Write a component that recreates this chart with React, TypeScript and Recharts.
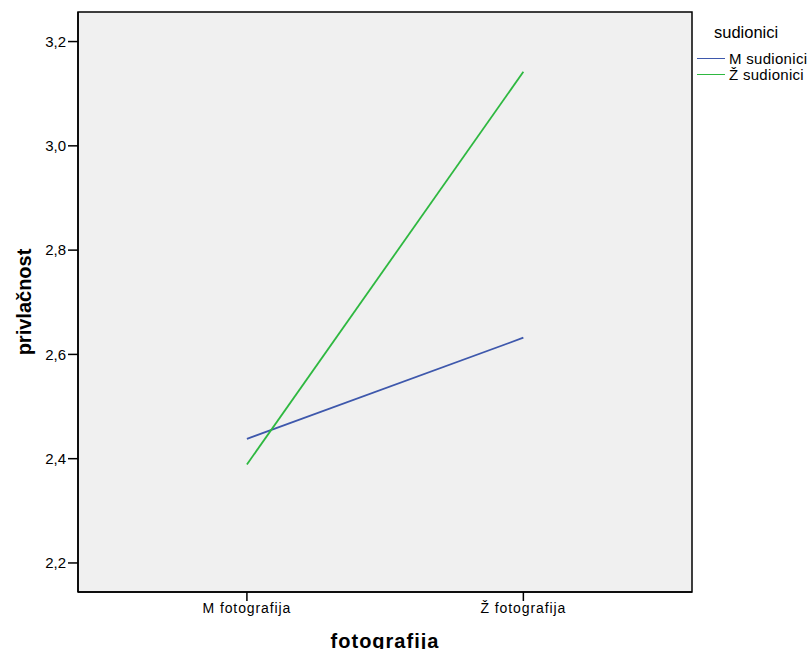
import React from 'react';
import { LineChart, Line, XAxis, YAxis, ReferenceArea } from 'recharts';

const categories = ['M fotografija', 'Ž fotografija'];
const mSudionici = [2.438, 2.632];
const zSudionici = [2.389, 3.142];
const yTicks = [2.2, 2.4, 2.6, 2.8, 3.0, 3.2];

const X_MIN = -0.611;
const X_MAX = 1.61;
const Y_MIN = 2.1443;
const Y_MAX = 3.2567;

const BLUE = '#3e58ac';
const GREEN = '#2eb840';
const FONT = '"Liberation Sans", Arial, sans-serif';

const chartData = categories.map((name, i) => ({
  x: i,
  name,
  m: mSudionici[i],
  z: zSudionici[i],
}));

const legendItems = [
  { label: 'M sudionici', color: BLUE },
  { label: 'Ž sudionici', color: GREEN },
];

const LegendBox = () => (
  <div style={{ position: 'absolute', left: 697, top: 23, fontFamily: FONT, color: '#000' }}>
    <div style={{ fontSize: 16.5, marginLeft: 17, marginBottom: 8 }}>sudionici</div>
    {legendItems.map((it) => (
      <div key={it.label} style={{ display: 'flex', alignItems: 'center', height: 16 }}>
        <div style={{ width: 28, height: 0, borderTop: `1.5px solid ${it.color}`, marginRight: 4 }} />
        <span style={{ fontSize: 15, letterSpacing: 0.3 }}>{it.label}</span>
      </div>
    ))}
  </div>
);

export default function App() {
  return (
    <div style={{ position: 'absolute', left: 0, top: 0, width: 811, height: 649, background: '#fff', overflow: 'hidden' }}>
      <LineChart
        width={811}
        height={649}
        data={chartData}
        margin={{ top: 12, right: 119, bottom: 0, left: 0 }}
        style={{ fontFamily: FONT }}
      >
        <ReferenceArea
          x1={X_MIN}
          x2={X_MAX}
          y1={Y_MIN}
          y2={Y_MAX}
          fill="#f0f0f0"
          fillOpacity={1}
          stroke="#000"
          strokeWidth={1.5}
        />
        <XAxis
          dataKey="x"
          type="number"
          domain={[X_MIN, X_MAX]}
          ticks={[0, 1]}
          tickFormatter={(v: number) => categories[v] ?? ''}
          height={57}
          axisLine={{ stroke: '#000', strokeWidth: 1.5 }}
          tickLine={{ stroke: '#000', strokeWidth: 1.5 }}
          tickSize={9}
          tick={{ fill: '#000', fontSize: 14, letterSpacing: 0.9 }}
          allowDataOverflow
          label={{ value: 'fotografija', position: 'insideBottom', offset: 1, fill: '#000', fontSize: 20, fontWeight: 'bold', letterSpacing: 1 }}
        />
        <YAxis
          type="number"
          domain={[Y_MIN, Y_MAX]}
          ticks={yTicks}
          tickFormatter={(v: number) => v.toFixed(1).replace('.', ',')}
          width={78}
          axisLine={{ stroke: '#000', strokeWidth: 1.5 }}
          tickLine={{ stroke: '#000', strokeWidth: 1.5 }}
          tickSize={10}
          tick={{ fill: '#000', fontSize: 15 }}
          allowDataOverflow
          label={{ value: 'privlačnost', angle: -90, position: 'insideLeft', offset: 24, fill: '#000', fontSize: 20, fontWeight: 'bold', style: { textAnchor: 'middle' } }}
        />
        <Line dataKey="m" name="M sudionici" stroke={BLUE} strokeWidth={1.8} dot={false} isAnimationActive={false} />
        <Line dataKey="z" name="Ž sudionici" stroke={GREEN} strokeWidth={1.8} dot={false} isAnimationActive={false} />
      </LineChart>
      <LegendBox />
    </div>
  );
}
